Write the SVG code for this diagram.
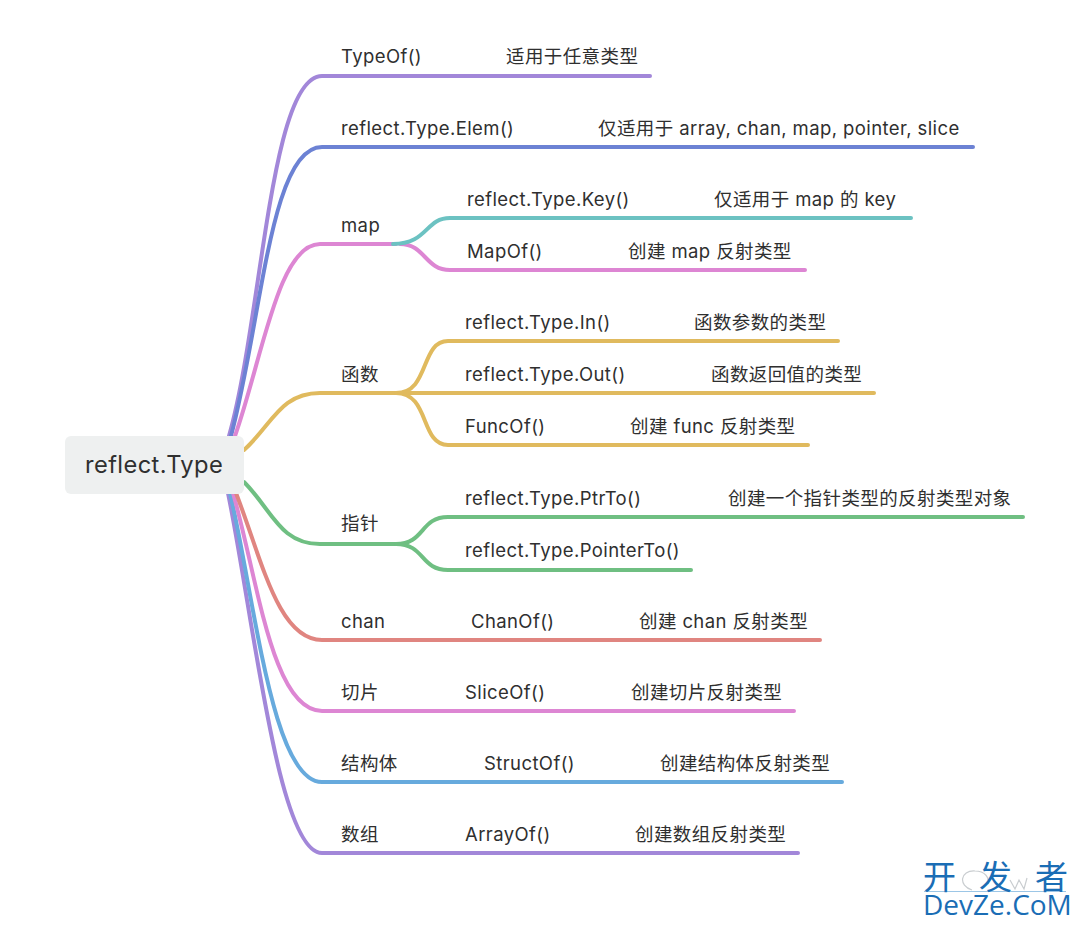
<svg xmlns="http://www.w3.org/2000/svg" width="1080" height="926" viewBox="0 0 1080 926">
<style>
text{font-family:"Inter","Noto Sans CJK SC",sans-serif;font-size:18.5px;fill:#2f2f2f;letter-spacing:.4px}
.c{fill:none;stroke-width:4;stroke-linecap:round}
.wm{font-family:"Noto Sans CJK SC","Open Sans",sans-serif;fill:#1a6db5;letter-spacing:0}
.f{fill:none;stroke:#c9cdd0;stroke-width:1.2}
</style>
<rect width="1080" height="926" fill="#fff"/>
<g id="connectors">
<path class="c" stroke="#a287d9" d="M229 436C262 320 270 76 322 76H650"/>
<path class="c" stroke="#6c82d4" d="M231 436C262 320 270 147 322 147H973"/>
<path class="c" stroke="#dd86d3" d="M235 436C262 360 278 244 320 244H396"/>
<path class="c" stroke="#e0ba5e" d="M244 450C272 425 280 393 320 393H400"/>
<path class="c" stroke="#6fbf82" d="M244 482C272 510 280 544 320 544H400"/>
<path class="c" stroke="#a287d9" d="M228 493C254 620 278 853 322 853H798"/>
<path class="c" stroke="#67aadd" d="M230 493C255 600 272 782 322 782H842"/>
<path class="c" stroke="#dd86d3" d="M233 493C258 580 272 711 322 711H794"/>
<path class="c" stroke="#e08580" d="M236 493C262 560 278 640 322 640H820"/>
<path class="c" stroke="#dd86d3" d="M400 244C425 244 425 270 450 270H805"/>
<path class="c" stroke="#6cc2c2" d="M393 244C428 244 425 218 450 218H911"/>
<path class="c" stroke="#e0ba5e" d="M396 393C430 393 420 341 448 341H838"/>
<path class="c" stroke="#e0ba5e" d="M396 393H874"/>
<path class="c" stroke="#e0ba5e" d="M396 393C430 393 420 445 448 445H808"/>
<path class="c" stroke="#6fbf82" d="M396 544C425 544 420 517 448 517H1023"/>
<path class="c" stroke="#6fbf82" d="M396 544C425 544 420 570 448 570H691"/>
</g>
<g id="root"><rect x="65" y="436" width="179" height="58" rx="6" fill="#eef0f0"/><text x="85" y="473" style="font-size:23.7px">reflect.Type</text></g>
<g id="n1"><text x="341" y="63">TypeOf()</text><text x="506" y="63">适用于任意类型</text></g>
<g id="n2"><text x="341" y="135">reflect.Type.Elem()</text><text x="598" y="135">仅适用于 array, chan, map, pointer, slice</text></g>
<g id="n3"><text x="341" y="232">map</text></g>
<g id="n3a"><text x="467" y="206">reflect.Type.Key()</text><text x="714" y="206">仅适用于 map 的 key</text></g>
<g id="n3b"><text x="467" y="258">MapOf()</text><text x="628" y="258">创建 map 反射类型</text></g>
<g id="n4"><text x="341" y="381">函数</text></g>
<g id="n4a"><text x="465" y="329">reflect.Type.In()</text><text x="694" y="329">函数参数的类型</text></g>
<g id="n4b"><text x="465" y="381">reflect.Type.Out()</text><text x="711" y="381">函数返回值的类型</text></g>
<g id="n4c"><text x="465" y="433">FuncOf()</text><text x="630" y="433">创建 func 反射类型</text></g>
<g id="n5"><text x="341" y="530">指针</text></g>
<g id="n5a"><text x="465" y="505">reflect.Type.PtrTo()</text><text x="728" y="505">创建一个指针类型的反射类型对象</text></g>
<g id="n5b"><text x="465" y="557">reflect.Type.PointerTo()</text></g>
<g id="n6"><text x="341" y="628">chan</text><text x="471" y="628">ChanOf()</text><text x="639" y="628">创建 chan 反射类型</text></g>
<g id="n7"><text x="341" y="699">切片</text><text x="465" y="699">SliceOf()</text><text x="631" y="699">创建切片反射类型</text></g>
<g id="n8"><text x="341" y="770">结构体</text><text x="484" y="770">StructOf()</text><text x="660" y="770">创建结构体反射类型</text></g>
<g id="n9"><text x="341" y="841">数组</text><text x="465" y="841">ArrayOf()</text><text x="635" y="841">创建数组反射类型</text></g>
<g id="watermark">
<path class="f" d="M972 890C958 886 960 870 975 871C985 871 990 878 988 884M1010 880L1015 889L1019 880L1024 889L1027 878"/>
<path d="M924 891.500H1066" stroke="#9cc6e6" stroke-width="1" fill="none"/>
<text class="wm" x="923" y="889" style="font-size:33px">开</text>
<text class="wm" x="979" y="889" style="font-size:33px">发</text>
<text class="wm" x="1035" y="889" style="font-size:33px">者</text>
<text class="wm" x="923" y="915" style="font-size:28px;font-family:'Open Sans',sans-serif">DevZe.CoM</text>
</g>
</svg>
